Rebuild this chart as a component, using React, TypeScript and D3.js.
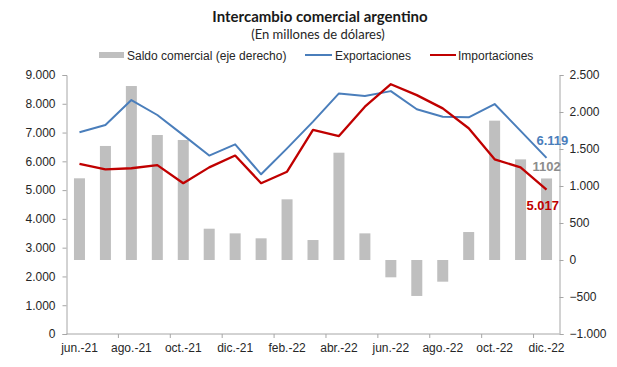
import { useEffect, useRef } from 'react';
import * as d3 from 'd3';

const months = ['jun.-21', 'jul.-21', 'ago.-21', 'sep.-21', 'oct.-21', 'nov.-21', 'dic.-21', 'ene.-22', 'feb.-22', 'mar.-22', 'abr.-22', 'may.-22', 'jun.-22', 'jul.-22', 'ago.-22', 'sep.-22', 'oct.-22', 'nov.-22', 'dic.-22'];
const exportaciones = [7010, 7260, 8130, 7610, 6910, 6200, 6590, 5550, 6450, 7380, 8360, 8270, 8440, 7810, 7550, 7530, 7990, 7060, 6119];
const importaciones = [5910, 5720, 5760, 5870, 5240, 5790, 6200, 5240, 5640, 7090, 6880, 7900, 8680, 8300, 7840, 7150, 6070, 5790, 5017];
const saldo = [1104, 1541, 2351, 1689, 1622, 423, 360, 293, 820, 270, 1450, 360, -234, -486, -293, 378, 1883, 1360, 1102];
const leftTicks = [0, 1000, 2000, 3000, 4000, 5000, 6000, 7000, 8000, 9000];
const rightTicks = [-1000, -500, 0, 500, 1000, 1500, 2000, 2500];

const BLUE = '#4a7ebb';
const RED = '#c00000';
const GRAY = '#bfbfbf';
const AXIS = '#a6a6a6';
const TXT = '#262626';

const App = () => {
  const svgRef = useRef<SVGSVGElement | null>(null);

  useEffect(() => {
    if (!svgRef.current) return;
    const width = 617;
    const height = 367;
    const svg = d3.select(svgRef.current).attr('width', width).attr('height', height);
    svg.selectAll('*').remove();

    const left = 66.5, right = 559.5, top = 75, bottom = 334;
    const locale = d3.formatLocale({ decimal: ',', thousands: '.', grouping: [3], currency: ['$', ''] });
    const fmt = locale.format(',d');

    const x = d3.scaleBand<string>().domain(months).range([left, right]).padding(0);
    const yL = d3.scaleLinear().domain([0, 9000]).range([bottom, top]);
    const yR = d3.scaleLinear().domain([-1000, 2500]).range([bottom, top]);
    const cx = (i: number) => (x(months[i]) as number) + x.bandwidth() / 2;

    svg.append('rect').attr('width', width).attr('height', height).attr('fill', '#fff');

    // titulos
    svg.append('text').attr('x', 320).attr('y', 22).attr('text-anchor', 'middle')
      .attr('font-family', 'Lato, sans-serif').attr('font-weight', 'bold').attr('font-size', 15)
      .attr('fill', '#1a1a1a').text('Intercambio comercial argentino');
    svg.append('text').attr('x', 318).attr('y', 39).attr('text-anchor', 'middle')
      .attr('font-family', 'Lato, sans-serif').attr('font-size', 13)
      .attr('fill', TXT).text('(En millones de dólares)');

    // leyenda
    const lg = svg.append('g').attr('font-family', 'Liberation Sans, Arial, sans-serif').attr('font-size', 12).attr('fill', TXT);
    lg.append('rect').attr('x', 99).attr('y', 52).attr('width', 25).attr('height', 6).attr('fill', GRAY);
    lg.append('text').attr('x', 127).attr('y', 59.5).text('Saldo comercial (eje derecho)');
    lg.append('line').attr('x1', 305).attr('x2', 332).attr('y1', 55).attr('y2', 55).attr('stroke', BLUE).attr('stroke-width', 2);
    lg.append('text').attr('x', 335).attr('y', 59.5).text('Exportaciones');
    lg.append('line').attr('x1', 430).attr('x2', 456).attr('y1', 55).attr('y2', 55).attr('stroke', RED).attr('stroke-width', 2);
    lg.append('text').attr('x', 458).attr('y', 59.5).text('Importaciones');

    // barras
    const bw = 11;
    svg.append('g').selectAll('rect').data(saldo).enter().append('rect')
      .attr('x', (_d, i) => cx(i) - bw / 2)
      .attr('width', bw)
      .attr('y', d => yR(Math.max(0, d)))
      .attr('height', d => Math.abs(yR(d) - yR(0)))
      .attr('fill', GRAY);

    // ejes
    const axL = svg.append('g').attr('transform', `translate(${left},0)`)
      .call(d3.axisLeft(yL).tickValues(leftTicks).tickFormat(d => fmt(d as number)).tickSize(4).tickPadding(7));
    const axR = svg.append('g').attr('transform', `translate(${right},0)`)
      .call(d3.axisRight(yR).tickValues(rightTicks).tickFormat(d => fmt(d as number)).tickSize(4).tickPadding(6));
    const axB = svg.append('g').attr('transform', `translate(0,${bottom})`)
      .call(d3.axisBottom(x).tickValues(months.filter((_m, i) => i % 2 === 0)).tickSize(0).tickPadding(9));
    [axL, axR, axB].forEach(a => {
      a.select('.domain').attr('stroke', AXIS);
      a.selectAll('.tick line').attr('stroke', AXIS);
      a.selectAll('text').attr('font-family', 'Liberation Sans, Arial, sans-serif').attr('font-size', 12).attr('fill', TXT);
    });
    axB.select('.domain').attr('d', `M${left},0H${right}`);
    svg.append('g').selectAll('line').data(months.filter((_m, i) => i % 2 === 0 && i > 0)).enter().append('line')
      .attr('x1', d => (x(d) as number)).attr('x2', d => (x(d) as number))
      .attr('y1', bottom).attr('y2', bottom + 4).attr('stroke', AXIS);

    // lineas
    const line = d3.line<number>().x((_d, i) => cx(i)).y(d => yL(d));
    svg.append('path').datum(exportaciones).attr('d', line).attr('fill', 'none')
      .attr('stroke', BLUE).attr('stroke-width', 2).attr('stroke-linejoin', 'round');
    svg.append('path').datum(importaciones).attr('d', line).attr('fill', 'none')
      .attr('stroke', RED).attr('stroke-width', 2.3).attr('stroke-linejoin', 'round');

    // etiquetas finales
    const last = months.length - 1;
    const lx = cx(last);
    const labels = svg.append('g').attr('font-family', 'Liberation Sans, Arial, sans-serif').attr('font-weight', 'bold').attr('font-size', 13);
    labels.append('text').attr('x', lx - 10).attr('y', yL(exportaciones[last]) - 13).attr('fill', BLUE).text(fmt(exportaciones[last]));
    labels.append('text').attr('x', lx - 14).attr('y', yR(saldo[last]) - 7).attr('fill', '#8c8c8c').text(String(saldo[last]));
    labels.append('text').attr('x', lx - 20).attr('y', yL(importaciones[last]) + 20).attr('fill', RED).text(fmt(importaciones[last]));
  }, []);

  return (
    <svg ref={svgRef} style={{ position: 'absolute', left: 0, top: 0 }}></svg>
  );
};

export default App;
